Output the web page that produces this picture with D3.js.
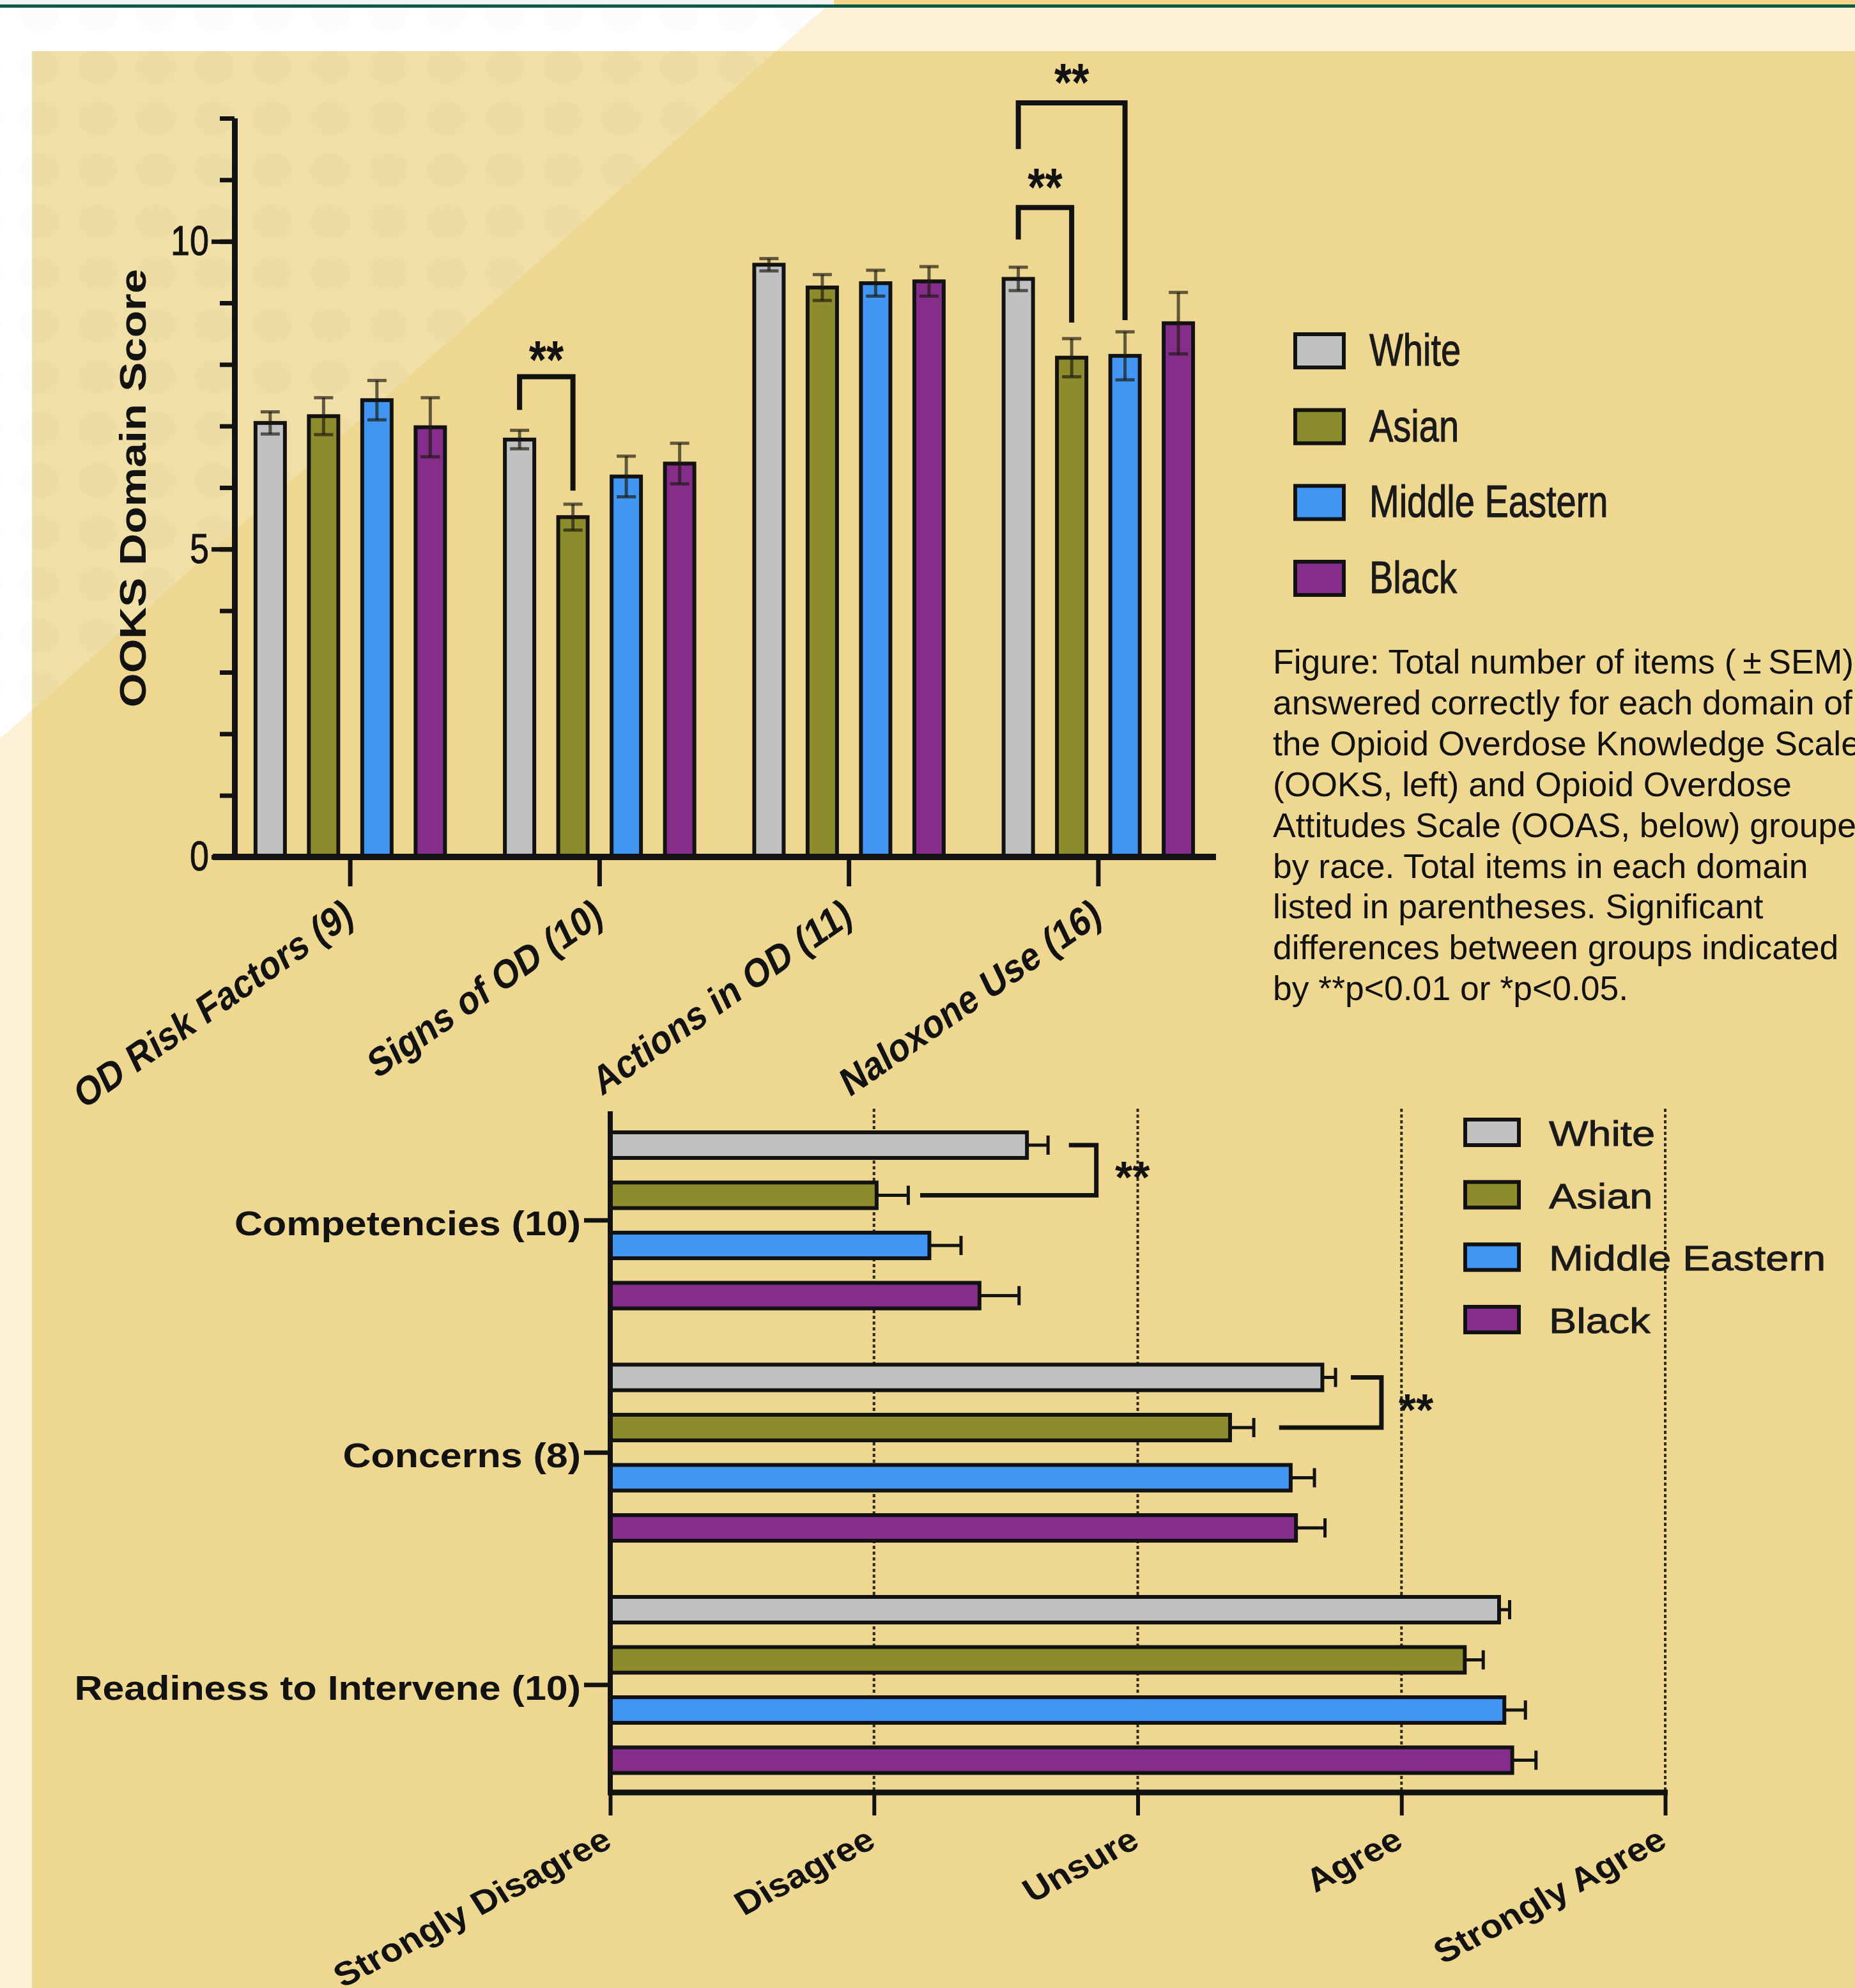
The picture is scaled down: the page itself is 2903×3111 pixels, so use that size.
<!DOCTYPE html>
<html>
<head>
<meta charset="utf-8">
<script src="https://cdn.jsdelivr.net/npm/d3@7"></script>
<style>
  html, body { margin: 0; padding: 0; background: #ffffff; overflow: hidden; }
  svg { display: block; }
</style>
</head>
<body>
<svg id="fig" width="2903" height="3111"></svg>
<script>
// ---------- data ----------
const groups = ["White", "Asian", "Middle Eastern", "Black"];
const groupColors = ["#c1c1c1", "#8e8b2d", "#4096f2", "#852d8b"];

// Opioid Overdose Knowledge Scale (items correct, mean ± SEM)
const ooksDomains = ["OD Risk Factors (9)", "Signs of OD (10)", "Actions in OD (11)", "Naloxone Use (16)"];
const ooksWhite = [7.05, 6.78, 9.62, 9.39];
const ooksAsian = [7.16, 5.52, 9.25, 8.11];
const ooksMiddleEastern = [7.42, 6.18, 9.32, 8.14];
const ooksBlack = [6.98, 6.39, 9.35, 8.67];
const ooksSemWhite = [0.18, 0.15, 0.10, 0.19];
const ooksSemAsian = [0.30, 0.21, 0.21, 0.31];
const ooksSemMiddleEastern = [0.32, 0.33, 0.21, 0.39];
const ooksSemBlack = [0.48, 0.33, 0.24, 0.50];
const ooksTicks = [0, 1, 2, 3, 4, 5, 6, 7, 8, 9, 10, 11, 12];
const ooksTickLabels = [0, 5, 10];
const ooksAxisTitle = "OOKS Domain Score";

// Opioid Overdose Attitudes Scale (Likert mean ± SEM)
const ooasDomains = ["Competencies (10)", "Concerns (8)", "Readiness to Intervene (10)"];
const ooasWhite = [2.58, 3.70, 4.37];
const ooasAsian = [2.01, 3.35, 4.24];
const ooasMiddleEastern = [2.21, 3.58, 4.39];
const ooasBlack = [2.40, 3.60, 4.42];
const ooasSemWhite = [0.08, 0.05, 0.04];
const ooasSemAsian = [0.12, 0.09, 0.07];
const ooasSemMiddleEastern = [0.12, 0.09, 0.08];
const ooasSemBlack = [0.15, 0.11, 0.09];
const ooasTicks = [1, 2, 3, 4, 5];
const ooasTickLabels = ["Strongly Disagree", "Disagree", "Unsure", "Agree", "Strongly Agree"];

// significance brackets (group indices inside a domain, heights in score units)
const ooksBrackets = [
  { domain: 1, a: 0, b: 1, top: 7.80, endA: 7.26, endB: 5.95, star: 8.24, label: "**" },
  { domain: 3, a: 0, b: 1, top: 10.55, endA: 10.03, endB: 8.68, star: 11.04, label: "**" },
  { domain: 3, a: 0, b: 2, top: 12.25, endA: 11.50, endB: 8.72, star: 12.74, label: "**" }
];
const ooasBrackets = [
  { domain: 0, a: 0, b: 1, at: 2.843, startA: 2.739, startB: 2.175, star: 2.98, label: "**" },
  { domain: 1, a: 0, b: 1, at: 3.924, startA: 3.808, startB: 3.536, star: 4.055, label: "**" }
];

const captionLines = [
  "Figure: Total number of items (\u2009\u00B1\u2009SEM)",
  "answered correctly for each domain of",
  "the Opioid Overdose Knowledge Scale",
  "(OOKS, left) and Opioid Overdose",
  "Attitudes Scale (OOAS, below) grouped",
  "by race. Total items in each domain",
  "listed in parentheses. Significant",
  "differences between groups indicated",
  "by **p<0.01 or *p<0.05."
];

const ooksMeans = [ooksWhite, ooksAsian, ooksMiddleEastern, ooksBlack];
const ooksSems = [ooksSemWhite, ooksSemAsian, ooksSemMiddleEastern, ooksSemBlack];
const ooasMeans = [ooasWhite, ooasAsian, ooasMiddleEastern, ooasBlack];
const ooasSems = [ooasSemWhite, ooasSemAsian, ooasSemMiddleEastern, ooasSemBlack];

// ---------- page ----------
const FONT = "'Liberation Sans', Arial, Helvetica, sans-serif";
const W = 2903, H = 3111;
const INK = "#121212";
const svg = d3.select("#fig");
const defs = svg.append("defs");

// faint oval texture of the poster background
const pat = defs.append("pattern").attr("id", "ovals").attr("patternUnits", "userSpaceOnUse")
  .attr("x", 16.5).attr("y", -17.5).attr("width", 91).attr("height", 81);
pat.append("ellipse").attr("cx", 45.5).attr("cy", 40.5).attr("rx", 31).attr("ry", 27)
  .attr("fill", "#000").attr("fill-opacity", 0.012);

const diag = y => 1305 - y * 1.1289;
svg.append("rect").attr("width", W).attr("height", H).attr("fill", "#ffffff");
svg.append("path").attr("d", `M${diag(0)},0H${W}V${H}H0V${1305 / 1.1289}Z`).attr("fill", "#fdf0d6");
svg.append("rect").attr("x", 0).attr("y", 0).attr("width", diag(0)).attr("height", 7).attr("fill", "#f4f4f4");
svg.append("rect").attr("x", diag(0)).attr("y", 0).attr("width", W - diag(0)).attr("height", 7).attr("fill", "#fbd588");
svg.append("rect").attr("x", 0).attr("y", 7).attr("width", W).attr("height", 5).attr("fill", "#0b5a47");
svg.append("rect").attr("x", 50).attr("y", 80).attr("width", W - 50).attr("height", H - 80).attr("fill", "#eed791");
svg.append("path").attr("d", `M50,80H${diag(80)}L50,${(1305 - 50) / 1.1289}Z`).attr("fill", "#f0dfa6");
svg.append("path").attr("d", `M0,12H${diag(12)}L0,${1305 / 1.1289}Z`).attr("fill", "url(#ovals)");

// ---------- OOKS grouped column chart ----------
const yT = d3.scaleLinear().domain([0, 12]).range([1341, 185]);
const x0T = d3.scaleBand().domain(ooksDomains).range([353, 1914]);
const x1T = d3.scaleBand().domain(groups).range([-167, 167]).paddingInner(0.449).paddingOuter(0.2245);
const colX = (di, gi) => x0T(ooksDomains[di]) + x0T.bandwidth() / 2 + x1T(groups[gi]);
const colC = (di, gi) => colX(di, gi) + x1T.bandwidth() / 2;

const ooksRows = [];
ooksDomains.forEach((d, di) => groups.forEach((g, gi) =>
  ooksRows.push({ di, gi, v: ooksMeans[gi][di], s: ooksSems[gi][di] })));

const knowledge = svg.append("g");
knowledge.selectAll("rect.col").data(ooksRows).join("rect").attr("class", "col")
  .attr("x", d => colX(d.di, d.gi)).attr("y", d => yT(d.v))
  .attr("width", x1T.bandwidth()).attr("height", d => yT(0) - yT(d.v))
  .attr("fill", d => groupColors[d.gi]).attr("stroke", INK).attr("stroke-width", 6);

const errT = knowledge.append("g").attr("stroke", "#1e1a10").attr("stroke-opacity", 0.68).attr("stroke-width", 5);
errT.selectAll("line.v").data(ooksRows).join("line").attr("class", "v")
  .attr("x1", d => colC(d.di, d.gi)).attr("x2", d => colC(d.di, d.gi))
  .attr("y1", d => yT(d.v - d.s)).attr("y2", d => yT(d.v + d.s));
errT.selectAll("line.hi").data(ooksRows).join("line").attr("class", "hi")
  .attr("x1", d => colC(d.di, d.gi) - 15).attr("x2", d => colC(d.di, d.gi) + 15)
  .attr("y1", d => yT(d.v + d.s)).attr("y2", d => yT(d.v + d.s));
errT.selectAll("line.lo").data(ooksRows).join("line").attr("class", "lo")
  .attr("x1", d => colC(d.di, d.gi) - 15).attr("x2", d => colC(d.di, d.gi) + 15)
  .attr("y1", d => yT(d.v - d.s)).attr("y2", d => yT(d.v - d.s));

// axes
const yAxisX = 367;
const minorY = knowledge.append("g").attr("transform", `translate(${yAxisX},0)`)
  .call(d3.axisLeft(yT).tickValues(ooksTicks).tickSize(23).tickSizeOuter(0).tickFormat(""));
const majorY = knowledge.append("g").attr("transform", `translate(${yAxisX},0)`)
  .call(d3.axisLeft(yT).tickValues(ooksTickLabels).tickSize(36).tickPadding(4).tickSizeOuter(0));
[minorY, majorY].forEach(g => {
  g.select(".domain").attr("stroke", INK).attr("stroke-width", 9);
  g.selectAll(".tick line").attr("stroke", INK).attr("stroke-width", 7);
});
majorY.selectAll(".tick text").attr("font-family", FONT).attr("font-size", 54).attr("fill", INK)
  .attr("stroke", INK).attr("stroke-width", 0.8)
  .attr("transform", "scale(1,1.2)");

knowledge.append("line").attr("x1", yAxisX - 34).attr("x2", 1903).attr("y1", yT(0)).attr("y2", yT(0))
  .attr("stroke", INK).attr("stroke-width", 10);
const xAxT = knowledge.append("g").attr("transform", `translate(0,${yT(0)})`)
  .call(d3.axisBottom(x0T).tickSize(46).tickSizeOuter(0));
xAxT.select(".domain").remove();
xAxT.selectAll(".tick line").attr("stroke", INK).attr("stroke-width", 7);
xAxT.selectAll(".tick text").attr("y", null).attr("dy", null).attr("text-anchor", "end")
  .attr("font-family", FONT).attr("font-size", 53).attr("font-weight", "bold").attr("fill", INK)
  .attr("transform", "translate(8,101) scale(1,1.2) rotate(-30)");

knowledge.append("text").text(ooksAxisTitle)
  .attr("transform", "translate(228,764) rotate(-90)")
  .attr("text-anchor", "middle").attr("font-family", FONT).attr("font-weight", "bold")
  .attr("font-size", 58).attr("textLength", 686).attr("lengthAdjust", "spacingAndGlyphs").attr("fill", INK);

// brackets
const brT = knowledge.append("g");
brT.selectAll("path").data(ooksBrackets).join("path")
  .attr("d", b => `M${colC(b.domain, b.a)},${yT(b.endA)}V${yT(b.top)}H${colC(b.domain, b.b)}V${yT(b.endB)}`)
  .attr("fill", "none").attr("stroke", INK).attr("stroke-width", 8).attr("stroke-linejoin", "miter");
brT.selectAll("text").data(ooksBrackets).join("text").text(b => b.label)
  .attr("transform", b => `translate(${(colC(b.domain, b.a) + colC(b.domain, b.b)) / 2},${yT(b.star)}) scale(1,1.2)`)
  .attr("y", 37).attr("text-anchor", "middle").attr("font-family", FONT).attr("font-weight", "bold")
  .attr("font-size", 70).attr("fill", INK);

// legend
const legT = d3.scalePoint().domain(groups).range([549, 905]);
const lgT = knowledge.append("g");
lgT.selectAll("rect").data(groups).join("rect")
  .attr("x", 2027).attr("y", g => legT(g) - 26).attr("width", 76).attr("height", 52)
  .attr("fill", (g, i) => groupColors[i]).attr("stroke", INK).attr("stroke-width", 6);
lgT.selectAll("text").data(groups).join("text").text(g => g)
  .attr("transform", g => `translate(2143,${legT(g) + 23}) scale(1,1.25)`)
  .attr("font-family", FONT).attr("font-size", 56).attr("fill", "#1a1a1a")
  .attr("stroke", "#1a1a1a").attr("stroke-width", 0.9);

// caption
svg.append("g").selectAll("text").data(captionLines).join("text").text(t => t)
  .attr("x", 1992).attr("y", (t, i) => 1054 + i * 63.9)
  .attr("font-family", FONT).attr("font-size", 53.5).attr("fill", "#111111");

// ---------- OOAS grouped bar chart ----------
const xB = d3.scaleLinear().domain([1, 5]).range([955, 2606]);
const y0B = d3.scaleBand().domain(ooasDomains).range([1728, 2818.5]);
const y1B = d3.scaleBand().domain(groups).range([-157, 157]).paddingInner(0.49).paddingOuter(0.245);
const barY = (di, gi) => y0B(ooasDomains[di]) + y0B.bandwidth() / 2 + y1B(groups[gi]);
const barC = (di, gi) => barY(di, gi) + y1B.bandwidth() / 2;

const ooasRows = [];
ooasDomains.forEach((d, di) => groups.forEach((g, gi) =>
  ooasRows.push({ di, gi, v: ooasMeans[gi][di], s: ooasSems[gi][di] })));

const attitudes = svg.append("g");
attitudes.selectAll("line.grid").data(ooasTicks.slice(1)).join("line").attr("class", "grid")
  .attr("x1", v => xB(v)).attr("x2", v => xB(v)).attr("y1", 1735).attr("y2", 2805)
  .attr("stroke", "#2e2a1e").attr("stroke-width", 4).attr("stroke-dasharray", "5,4");

attitudes.selectAll("rect.bar").data(ooasRows).join("rect").attr("class", "bar")
  .attr("x", xB(1)).attr("y", d => barY(d.di, d.gi))
  .attr("width", d => xB(d.v) - xB(1)).attr("height", y1B.bandwidth())
  .attr("fill", d => groupColors[d.gi]).attr("stroke", INK).attr("stroke-width", 6);

const errB = attitudes.append("g").attr("stroke", INK).attr("stroke-width", 5);
errB.selectAll("line.h").data(ooasRows).join("line").attr("class", "h")
  .attr("x1", d => xB(d.v)).attr("x2", d => xB(d.v + d.s))
  .attr("y1", d => barC(d.di, d.gi)).attr("y2", d => barC(d.di, d.gi));
errB.selectAll("line.cap").data(ooasRows).join("line").attr("class", "cap")
  .attr("x1", d => xB(d.v + d.s)).attr("x2", d => xB(d.v + d.s))
  .attr("y1", d => barC(d.di, d.gi) - 15).attr("y2", d => barC(d.di, d.gi) + 15);

// axes
attitudes.append("line").attr("x1", xB(1)).attr("x2", xB(1)).attr("y1", 1739).attr("y2", 2805)
  .attr("stroke", INK).attr("stroke-width", 8);
const yAxB = attitudes.append("g").attr("transform", `translate(${xB(1)},0)`)
  .call(d3.axisLeft(y0B).tickSize(41).tickPadding(5).tickSizeOuter(0));
yAxB.select(".domain").remove();
yAxB.selectAll(".tick line").attr("stroke", INK).attr("stroke-width", 7);
yAxB.selectAll(".tick text").attr("x", null).attr("dy", null)
  .attr("font-family", FONT).attr("font-size", 53).attr("font-weight", "bold").attr("fill", INK)
  .attr("transform", "translate(-46,23) scale(1.15,1)");

attitudes.append("line").attr("x1", xB(1) - 4).attr("x2", xB(5) + 4).attr("y1", 2805).attr("y2", 2805)
  .attr("stroke", INK).attr("stroke-width", 9);
const xAxB = attitudes.append("g").attr("transform", "translate(0,2805)")
  .call(d3.axisBottom(xB).tickValues(ooasTicks).tickSize(36).tickSizeOuter(0)
    .tickFormat(v => ooasTickLabels[v - 1]));
xAxB.select(".domain").remove();
xAxB.selectAll(".tick line").attr("stroke", INK).attr("stroke-width", 6);
xAxB.selectAll(".tick text").attr("y", null).attr("dy", null).attr("text-anchor", "end")
  .attr("font-family", FONT).attr("font-size", 52).attr("font-weight", "bold").attr("fill", INK)
  .attr("transform", "translate(5,84) scale(1.1,1) rotate(-30)");

// brackets
const brB = attitudes.append("g");
brB.selectAll("path").data(ooasBrackets).join("path")
  .attr("d", b => `M${xB(b.startA)},${barC(b.domain, b.a)}H${xB(b.at)}V${barC(b.domain, b.b)}H${xB(b.startB)}`)
  .attr("fill", "none").attr("stroke", INK).attr("stroke-width", 7).attr("stroke-linejoin", "miter");
brB.selectAll("text").data(ooasBrackets).join("text").text(b => b.label)
  .attr("x", b => xB(b.star)).attr("y", b => (barC(b.domain, b.a) + barC(b.domain, b.b)) / 2 + 36)
  .attr("text-anchor", "middle").attr("font-family", FONT).attr("font-weight", "bold")
  .attr("font-size", 70).attr("fill", INK);

// legend
const legB = d3.scalePoint().domain(groups).range([1772, 2065]);
const lgB = attitudes.append("g");
lgB.selectAll("rect").data(groups).join("rect")
  .attr("x", 2293).attr("y", g => legB(g) - 20).attr("width", 84).attr("height", 40)
  .attr("fill", (g, i) => groupColors[i]).attr("stroke", INK).attr("stroke-width", 6);
lgB.selectAll("text").data(groups).join("text").text(g => g)
  .attr("transform", g => `translate(2424,${legB(g) + 21}) scale(1.16,1)`)
  .attr("font-family", FONT).attr("font-size", 56).attr("fill", "#1a1a1a")
  .attr("stroke", "#1a1a1a").attr("stroke-width", 0.9);
</script>
</body>
</html>
